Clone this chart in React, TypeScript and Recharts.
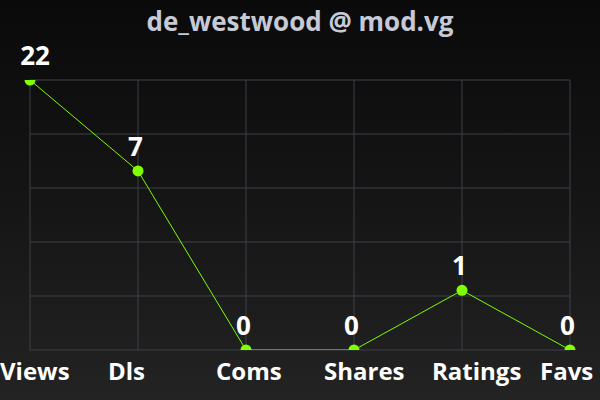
import React from 'react';
import { LineChart, Line, XAxis, YAxis, CartesianGrid, LabelList } from 'recharts';

const categories = ['Views', 'Dls', 'Coms', 'Shares', 'Ratings', 'Favs'];
const counts = [22, 7, 0, 0, 1, 0];

const chartData = categories.map((name, i) => ({ name, value: counts[i] }));

// values are drawn on a log(v + 1) scale
const logValue = (d: { value: number }) => Math.log10(d.value + 1);
const yMax = Math.log10(Math.max(...counts) + 1);
const yTicks = Array.from({ length: 6 }, (_, i) => (i * yMax) / 5);

const FONT = '"Open Sans", "Noto Sans", sans-serif';

function CategoryTick(props: any) {
  const { x, y, payload } = props;
  return (
    <text
      x={x - 30}
      y={y}
      dy={28}
      textAnchor="start"
      fill="#ffffff"
      fontFamily={FONT}
      fontWeight={700}
      fontSize={24}
    >
      {payload.value}
    </text>
  );
}

function ValueLabel(props: any) {
  const { x, y, value } = props;
  const txt = String(value);
  // keep the label's left edge at least 20px from the picture edge
  const half = txt.length * 7.5;
  const cx = Math.max(x - 2.5, half + 20);
  return (
    <text
      x={cx}
      y={y - 15}
      textAnchor="middle"
      fill="#ffffff"
      fontFamily={FONT}
      fontWeight={700}
      fontSize={26}
    >
      {txt}
    </text>
  );
}

export default function App() {
  return (
    <div
      style={{
        position: 'absolute',
        left: 0,
        top: 0,
        width: 600,
        height: 400,
        background: 'linear-gradient(to bottom, #0a0a0a 0%, #151515 50%, #232323 100%)',
      }}
    >
      <div
        style={{
          position: 'absolute',
          top: 3,
          left: 0,
          width: 600,
          textAlign: 'center',
          color: '#c6cad6',
          fontFamily: FONT,
          fontWeight: 700,
          fontSize: 26,
        }}
      >
        de_westwood @ mod.vg
      </div>
      <LineChart
        width={600}
        height={400}
        data={chartData}
        margin={{ top: 80, right: 30, left: 30, bottom: 0 }}
      >
        <CartesianGrid stroke="#3b4049" strokeWidth={1} />
        <XAxis
          dataKey="name"
          axisLine={false}
          tickLine={false}
          tickSize={0}
          height={50}
          interval={0}
          tick={<CategoryTick />}
        />
        <YAxis hide type="number" domain={[0, yMax]} ticks={yTicks} allowDataOverflow />
        <Line
          type="linear"
          dataKey={logValue}
          stroke="#7cfc00"
          strokeWidth={1}
          dot={{ r: 5.5, fill: '#7fff00', stroke: 'none' }}
          activeDot={false}
          isAnimationActive={false}
        >
          <LabelList dataKey="value" content={<ValueLabel />} />
        </Line>
      </LineChart>
    </div>
  );
}
